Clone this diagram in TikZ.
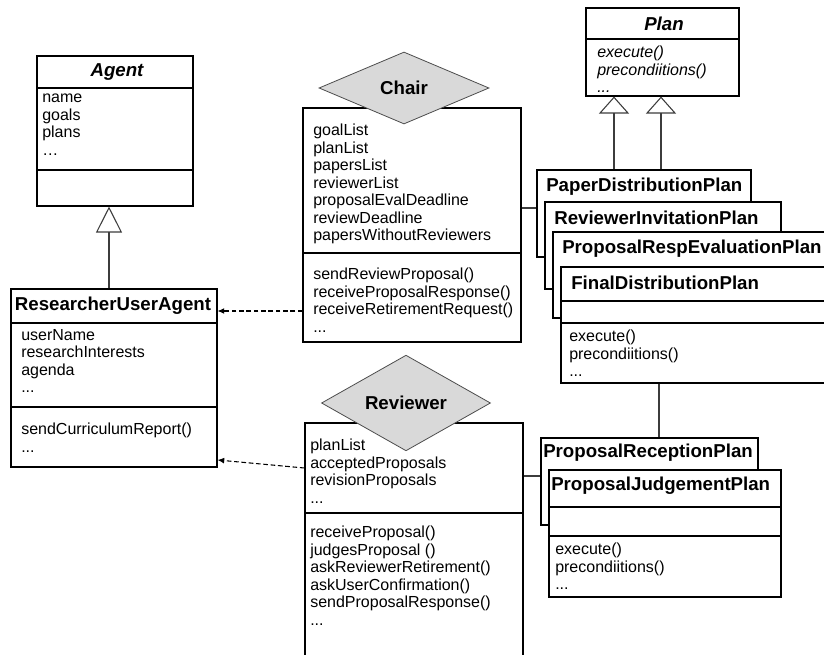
\documentclass[tikz,border=0pt]{standalone}
\usepackage{fontspec}
\setmainfont{Liberation Sans}
\usetikzlibrary{fit,shapes.geometric,arrows.meta}
\definecolor{diafill}{RGB}{217,217,217}
\definecolor{linegray}{RGB}{60,60,60}
\begin{document}
\begin{tikzpicture}[x=0.75pt,y=-0.75pt,
  umlbox/.style={draw=black,line width=0.8pt,fill=white,inner sep=0pt},
  sepline/.style={draw=black,line width=0.8pt},
  attrs/.style={anchor=north west,inner sep=0pt,align=left,font=\fontsize{12}{13.125}\selectfont},
  iattrs/.style={attrs,font=\itshape\fontsize{12}{13.125}\selectfont},
  titletext/.style={inner sep=0pt,font=\bfseries\fontsize{14}{16}\selectfont},
  ititletext/.style={inner sep=0pt,font=\bfseries\itshape\fontsize{14}{16}\selectfont},
  roledia/.style={diamond,draw=black!70,line width=0.6pt,fill=diafill,inner sep=0pt,
     minimum width=127.5pt,minimum height=54pt,font=\bfseries\fontsize{14}{16}\selectfont},
  gen/.style={draw=linegray,line width=0.8pt,-{Triangle[open,fill=white]}},
  dep/.style={draw=black,line width=0.8pt,dash pattern=on 3.5pt off 2pt,-{Latex[length=5pt,width=4.5pt]}},
  assoc/.style={draw=linegray,line width=0.8pt}
]
\useasboundingbox (0,0) rectangle (824,655);
\clip (0,0) rectangle (824,655);

% ---------- Agent ----------
\node[umlbox,fit={(37,56)(193,206)}] (agent) {};
\draw[sepline] (agent.west |- 0,88) -- (agent.east |- 0,88);
\draw[sepline] (agent.west |- 0,170) -- (agent.east |- 0,170);
\node[ititletext] (agentT) at (117,72) {Agent};
\node[attrs] (agentA) at (42,93.8) {name\\goals\\plans\\\ldots};

% ---------- ResearcherUserAgent ----------
\node[umlbox,fit={(11,289)(217,467)}] (rua) {};
\draw[sepline] (rua.west |- 0,323) -- (rua.east |- 0,323);
\draw[sepline] (rua.west |- 0,407) -- (rua.east |- 0,407);
\node[titletext] (ruaT) at (113,306) {ResearcherUserAgent};
\node[attrs] (ruaA) at (21,328.8) {userName\\researchInterests\\agenda\\...};
\node[attrs] (ruaM) at (21,422.8) {sendCurriculumReport()\\...};

% ---------- Chair ----------
\node[umlbox,fit={(303,108)(521,342)}] (chair) {};
\draw[sepline] (chair.west |- 0,253) -- (chair.east |- 0,253);
\node[attrs] (chairA) at (313,123.8) {goalList\\planList\\papersList\\reviewerList\\proposalEvalDeadline\\reviewDeadline\\papersWithoutReviewers};
\node[attrs] (chairM) at (313,267.8) {sendReviewProposal()\\receiveProposalResponse()\\receiveRetirementRequest()\\...};
\node[roledia] (chairD) at (404,88) {Chair};

% ---------- Reviewer ----------
\node[umlbox,fit={(305,423)(523,662)}] (reviewer) {};
\draw[sepline] (reviewer.west |- 0,513) -- (reviewer.east |- 0,513);
\node[attrs] (revA) at (310,438.8) {planList\\acceptedProposals\\revisionProposals\\...};
\node[attrs] (revM) at (310,525.8) {receiveProposal()\\judgesProposal ()\\askReviewerRetirement()\\askUserConfirmation()\\sendProposalResponse()\\...};
\node[roledia,minimum width=126.75pt] (revD) at (406,403) {Reviewer};

% ---------- Plan ----------
\node[umlbox,fit={(586,8)(739,96)}] (plan) {};
\draw[sepline] (plan.west |- 0,39) -- (plan.east |- 0,39);
\node[ititletext] (planT) at (664,24) {Plan};
\node[iattrs] (planM) at (597,45.8) {execute()\\precondiitions()\\...};

% ---------- stacked plans (Chair) ----------
\node[umlbox,fit={(537,170)(751,257)}] (pdp) {};
\node[titletext,anchor=west] (pdpT) at (546,187) {PaperDistributionPlan};
\node[umlbox,fit={(545,202)(781,289)}] (rip) {};
\node[titletext,anchor=west] (ripT) at (554,218) {ReviewerInvitationPlan};
\node[umlbox,fit={(553,232)(840,318)}] (prep) {};
\node[titletext,anchor=west] (prepT) at (562,249) {ProposalRespEvaluationPlan};
\node[umlbox,fit={(561,267)(840,383)}] (fdp) {};
\draw[sepline] (fdp.west |- 0,301) -- (fdp.east |- 0,301);
\draw[sepline] (fdp.west |- 0,323) -- (fdp.east |- 0,323);
\node[titletext,anchor=west] (fdpT) at (571,283) {FinalDistributionPlan};
\node[attrs] (fdpM) at (569,329.8) {execute()\\precondiitions()\\...};

% ---------- stacked plans (Reviewer) ----------
\node[umlbox,fit={(541,438)(758,525)}] (prp) {};
\node[titletext,anchor=west] (prpT) at (543,453) {ProposalReceptionPlan};
\node[umlbox,fit={(549,470)(781,597)}] (pjp) {};
\draw[sepline] (pjp.west |- 0,507) -- (pjp.east |- 0,507);
\draw[sepline] (pjp.west |- 0,536) -- (pjp.east |- 0,536);
\node[titletext,anchor=west] (pjpT) at (551,486) {ProposalJudgementPlan};
\node[attrs] (pjpM) at (555,542.8) {execute()\\precondiitions()\\...};

% ---------- connectors ----------
\coordinate (gA) at (109,0);
\coordinate (gP1) at (614,0);
\coordinate (gP2) at (661,0);
\coordinate (lF) at (659,0);
\draw[gen,-{Triangle[open,fill=white,length=19.5pt,width=19.5pt]}] (rua.north -| gA) -- (agent.south -| gA);
\draw[gen,-{Triangle[open,fill=white,length=12.75pt,width=22.5pt]}] (pdp.north -| gP1) -- (plan.south -| gP1);
\draw[gen,-{Triangle[open,fill=white,length=12.75pt,width=22.5pt]}] (pdp.north -| gP2) -- (plan.south -| gP2);
\draw[dep] (chair.west |- 0,311) -- (rua.east |- 0,311);
\draw[dep] (reviewer.west |- 0,468) -- (rua.east |- 0,460);
\draw[assoc] (chair.east |- 0,208) -- (pdp.west |- 0,208);
\draw[assoc] (reviewer.east |- 0,476) -- (prp.west |- 0,476);
\draw[assoc] (fdp.south -| lF) -- (prp.north -| lF);
\end{tikzpicture}
\end{document}
